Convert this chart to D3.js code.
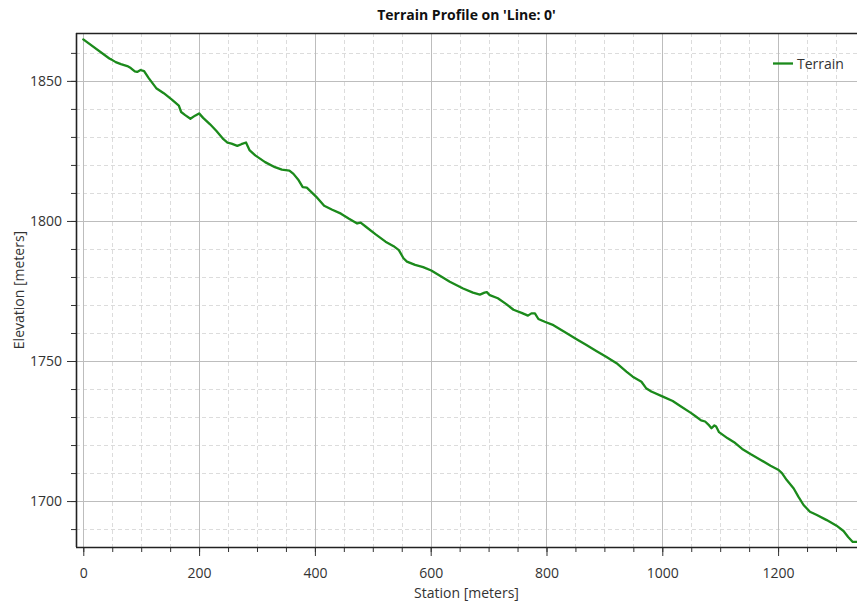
<!DOCTYPE html>
<html>
<head>
<meta charset="utf-8">
<script src="https://cdn.jsdelivr.net/npm/d3@7"></script>
<style>
    body { margin: 0; background: #fff; }
    svg text { font-family: "Open Sans", "Noto Sans", sans-serif; }
</style>
</head>
<body>
<svg id="chart"></svg>
<script>
// chart texts
var chartTitle = "Terrain Profile on 'Line: 0'";
var xLabel = "Station [meters]";
var yLabel = "Elevation [meters]";
var seriesName = "Terrain";

// terrain profile
var stations = [0, 45, 49, 56, 65, 76, 82, 89, 93, 99, 105, 113, 126, 139, 153, 165, 169, 176, 185, 193,
    200, 207, 219, 230, 242, 249, 256, 266, 273, 281, 287, 297, 314, 331, 343, 356, 363, 372, 379, 386,
    394, 402, 416, 430, 445, 459, 473, 479, 487, 505, 522, 536, 545, 553, 559, 573, 587, 601, 616, 633,
    656, 673, 685, 693, 697, 702, 716, 730, 743, 757, 768, 774, 780, 786, 797, 812, 835, 852, 869, 886,
    903, 921, 938, 949, 964, 972, 981, 1001, 1018, 1033, 1050, 1058, 1067, 1074, 1081, 1085, 1090, 1093, 1098, 1113,
    1124, 1138, 1153, 1170, 1187, 1201, 1207, 1215, 1227, 1235, 1244, 1255, 1267, 1284, 1301, 1313, 1321, 1329, 1336];
var elevations = [1864.8, 1858.0, 1857.6, 1856.7, 1856.0, 1855.3, 1854.6, 1853.4, 1853.2, 1853.9, 1853.5, 1851.0, 1847.4, 1845.6, 1843.3, 1841.2, 1838.9, 1837.8, 1836.5, 1837.6,
    1838.4, 1836.8, 1834.5, 1832.1, 1829.2, 1828.0, 1827.6, 1826.8, 1827.4, 1828.0, 1825.3, 1823.4, 1821.0, 1819.2, 1818.3, 1818.0, 1816.8, 1814.5, 1812.1, 1811.9,
    1810.3, 1808.7, 1805.4, 1804.0, 1802.6, 1800.8, 1799.1, 1799.4, 1798.1, 1795.2, 1792.6, 1791.0, 1789.6, 1786.7, 1785.5, 1784.3, 1783.5, 1782.3, 1780.4, 1778.3,
    1775.9, 1774.4, 1773.7, 1774.4, 1774.6, 1773.5, 1772.4, 1770.4, 1768.3, 1767.2, 1766.2, 1767.0, 1767.0, 1765.0, 1764.0, 1762.8, 1759.9, 1757.8, 1755.7, 1753.6,
    1751.5, 1749.2, 1746.2, 1744.4, 1742.6, 1740.3, 1739.1, 1737.3, 1735.7, 1733.7, 1731.4, 1730.2, 1728.8, 1728.4, 1727.0, 1726.0, 1727.0, 1726.6, 1724.6, 1722.4,
    1721.0, 1718.6, 1716.7, 1714.7, 1712.6, 1711.1, 1709.9, 1707.5, 1704.5, 1701.6, 1698.6, 1696.2, 1695.0, 1693.2, 1691.2, 1689.3, 1687.2, 1685.4, 1685.4];

// ticks
var xTicks = [0, 200, 400, 600, 800, 1000, 1200];
var xMinorTicks = d3.range(0, 1301, 50);
var yTicks = [1700, 1750, 1800, 1850];
var yMinorTicks = d3.range(1690, 1861, 10);

var lineColor = "#1b8a1b";
var fontSize = "14px";

var svg = d3.select("#chart")
    .attr("width", 857)
    .attr("height", 603);
var margin = {top: 33, right: 0, bottom: 56, left: 76},
    width = 857 - margin.left - margin.right,
    height = 603 - margin.top - margin.bottom,
    g = svg.append("g").attr("transform", "translate(" + margin.left + "," + margin.top + ")");

var x = d3.scaleLinear().domain([-12.6, 1336.3]).range([0, width]);
var y = d3.scaleLinear().domain([1683.6, 1867.1]).range([height, 0]);

// grille secondaire (pointillés)
g.append("g").selectAll("line")
    .data(xMinorTicks.filter(function(d) { return d % 200 !== 0; }))
    .enter().append("line")
    .attr("x1", function(d) { return Math.round(x(d)) + 0.5; })
    .attr("x2", function(d) { return Math.round(x(d)) + 0.5; })
    .attr("y1", 0).attr("y2", height)
    .attr("stroke", "#dcdcdc").attr("stroke-dasharray", "4,3");
g.append("g").selectAll("line")
    .data(yMinorTicks.filter(function(d) { return d % 50 !== 0; }))
    .enter().append("line")
    .attr("y1", function(d) { return Math.round(y(d)) + 0.5; })
    .attr("y2", function(d) { return Math.round(y(d)) + 0.5; })
    .attr("x1", 0).attr("x2", width)
    .attr("stroke", "#dcdcdc").attr("stroke-dasharray", "4,3");

// grille principale
g.append("g").selectAll("line")
    .data(xTicks)
    .enter().append("line")
    .attr("x1", function(d) { return Math.round(x(d)) + 0.5; })
    .attr("x2", function(d) { return Math.round(x(d)) + 0.5; })
    .attr("y1", 0).attr("y2", height)
    .attr("stroke", "#bdbdbd");
g.append("g").selectAll("line")
    .data(yTicks)
    .enter().append("line")
    .attr("y1", function(d) { return Math.round(y(d)) + 0.5; })
    .attr("y2", function(d) { return Math.round(y(d)) + 0.5; })
    .attr("x1", 0).attr("x2", width)
    .attr("stroke", "#bdbdbd");

// profil
svg.append("clipPath").attr("id", "clip")
    .append("rect").attr("width", width).attr("height", height);

var data = stations.map(function(s, i) { return {s: s, e: elevations[i]}; });
var line = d3.line()
    .x(function(d) { return x(d.s); })
    .y(function(d) { return y(d.e); });

g.append("path")
    .datum(data)
    .attr("clip-path", "url(#clip)")
    .attr("fill", "none")
    .attr("stroke", lineColor)
    .attr("stroke-width", 2.3)
    .attr("stroke-linejoin", "round")
    .attr("stroke-linecap", "round")
    .attr("d", line);

// axes
g.append("g")
    .attr("transform", "translate(0," + height + ")")
    .call(d3.axisBottom(x).tickValues(xMinorTicks).tickSize(5).tickSizeOuter(0).tickFormat(""));
g.append("g")
    .attr("transform", "translate(0," + height + ")")
    .call(d3.axisBottom(x).tickValues(xTicks).tickSize(9).tickSizeOuter(0).tickPadding(12).tickFormat(d3.format("d")));
g.append("g")
    .call(d3.axisLeft(y).tickValues(yMinorTicks).tickSize(5).tickSizeOuter(0).tickFormat(""));
g.append("g")
    .call(d3.axisLeft(y).tickValues(yTicks).tickSize(9).tickSizeOuter(0).tickPadding(5).tickFormat(d3.format("d")));

g.selectAll(".domain").remove();
g.selectAll(".tick line").attr("stroke", "#333");
g.selectAll(".tick text")
    .attr("fill", "#333")
    .style("font-size", fontSize);

// cadre
g.append("line").attr("x1", 0).attr("x2", width).attr("y1", 0.5).attr("y2", 0.5)
    .attr("stroke", "#222").attr("stroke-width", 1.6);
g.append("line").attr("x1", 0).attr("x2", width).attr("y1", height + 0.5).attr("y2", height + 0.5)
    .attr("stroke", "#222").attr("stroke-width", 1.6);
g.append("line").attr("x1", 0.5).attr("x2", 0.5).attr("y1", 0).attr("y2", height)
    .attr("stroke", "#222").attr("stroke-width", 1.6);

// titres
svg.append("text")
    .attr("x", margin.left + width / 2)
    .attr("y", 20)
    .attr("text-anchor", "middle")
    .attr("fill", "#111")
    .style("font-size", "14px")
    .style("font-weight", "bold")
    .text(chartTitle);

svg.append("text")
    .attr("x", margin.left + width / 2)
    .attr("y", 598)
    .attr("text-anchor", "middle")
    .attr("fill", "#333")
    .style("font-size", fontSize)
    .text(xLabel);

svg.append("text")
    .attr("transform", "translate(24," + (margin.top + height / 2) + ") rotate(-90)")
    .attr("text-anchor", "middle")
    .attr("fill", "#333")
    .style("font-size", fontSize)
    .text(yLabel);

// légende
var legend = svg.append("g").attr("transform", "translate(773,63.5)");
legend.append("line")
    .attr("x1", 0).attr("x2", 20)
    .attr("stroke", lineColor)
    .attr("stroke-width", 2.3);
legend.append("text")
    .attr("x", 24)
    .attr("y", 5)
    .attr("fill", "#333")
    .style("font-size", fontSize)
    .text(seriesName);
</script>
</body>
</html>
